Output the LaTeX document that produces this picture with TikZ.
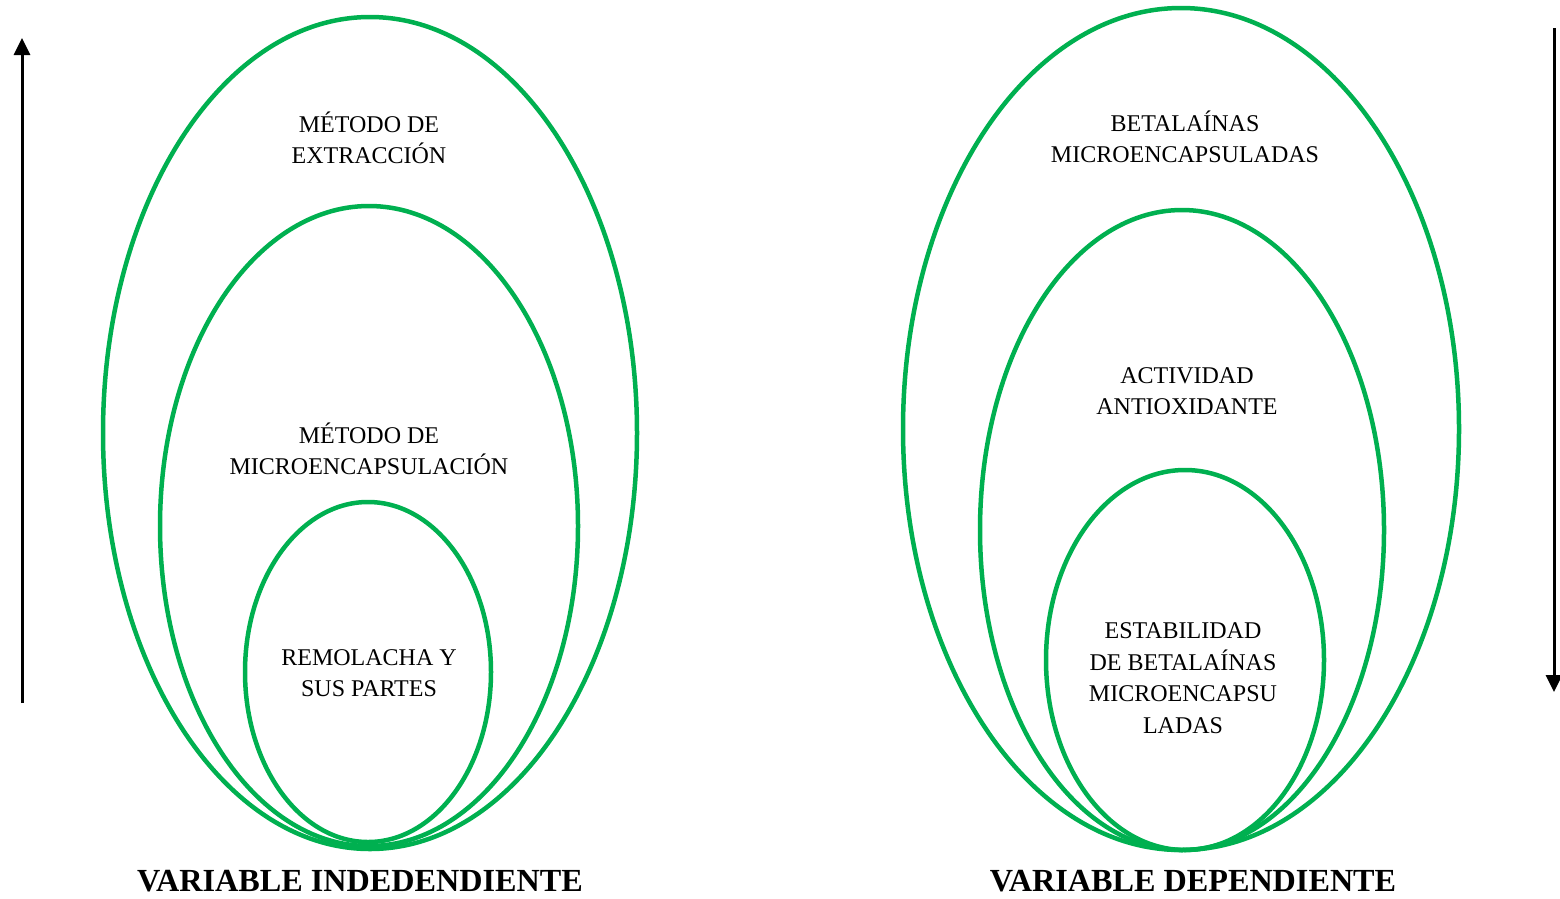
\documentclass[tikz,border=0pt]{standalone}
\usepackage{fontspec}
\setmainfont{Liberation Serif}
\usetikzlibrary{arrows.meta}
\definecolor{vgreen}{HTML}{00B050}
\begin{document}
\begin{tikzpicture}[x=1pt,y=-1pt,
  ring/.style={draw=vgreen,line width=4.5pt},
  lbl/.style={align=center,inner sep=0pt,font=\fontsize{24}{31.5}\selectfont},
  ttl/.style={inner sep=0pt,font=\fontsize{32.2}{36}\selectfont\bfseries},
  axis/.style={line width=3pt,-{Triangle[width=16pt,length=17pt]}}]
\useasboundingbox (0,0) rectangle (1560,898);
% left ellipses
\draw[ring] (370,433) ellipse [x radius=267,y radius=416];
\draw[ring] (369,526) ellipse [x radius=209,y radius=320];
\draw[ring] (368,672) ellipse [x radius=123,y radius=170];
% right ellipses
\draw[ring] (1181,429) ellipse [x radius=278,y radius=421];
\draw[ring] (1182,530) ellipse [x radius=202,y radius=320];
\draw[ring] (1185,660) ellipse [x radius=139,y radius=190];
% labels
\node[lbl] (l1) at (369,138) {MÉTODO DE\\EXTRACCIÓN};
\node[lbl] (l2) at (369,449) {MÉTODO DE\\MICROENCAPSULACIÓN};
\node[lbl] (l3) at (369,673) {REMOLACHA Y\\SUS PARTES};
\node[lbl] (r1) at (1185,137) {BETALAÍNAS\\MICROENCAPSULADAS};
\node[lbl] (r2) at (1187,391) {ACTIVIDAD\\ANTIOXIDANTE};
\node[lbl] (r3) at (1183,678) {ESTABILIDAD\\DE BETALAÍNAS\\MICROENCAPSU\\LADAS};
\node[ttl] (t1) at (360,881) {VARIABLE INDEDENDIENTE};
\node[ttl] (t2) at (1193,881) {VARIABLE DEPENDIENTE};
% arrows
\coordinate (a1) at (22,703);
\coordinate (a2) at (22,38);
\coordinate (b1) at (1554,28);
\coordinate (b2) at (1554,692);
\draw[axis] (a1) -- (a2);
\draw[axis] (b1) -- (b2);
\end{tikzpicture}
\end{document}
